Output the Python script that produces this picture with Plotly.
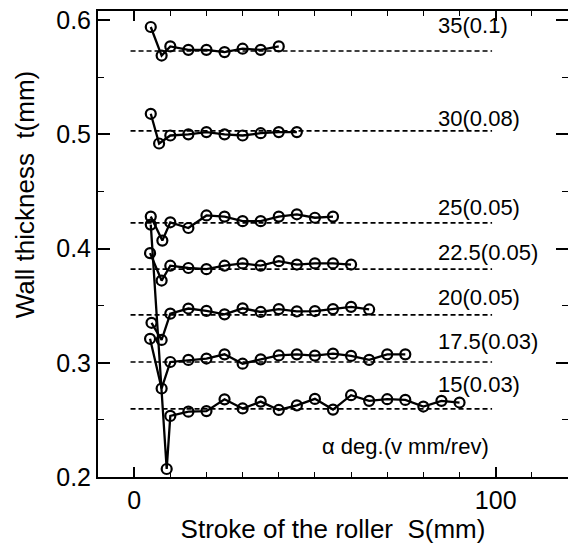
import plotly.graph_objects as go

# ---- data ----
SERIES_NAMES = ["35(0.1)", "30(0.08)", "25(0.05)", "22.5(0.05)", "20(0.05)", "17.5(0.03)", "15(0.03)"]

S_35 = [4.6, 7.6, 10, 15, 20, 25, 30, 35, 40]
T_35 = [0.594, 0.569, 0.577, 0.574, 0.574, 0.572, 0.575, 0.574, 0.577]

S_30 = [4.6, 6.9, 10, 15, 20, 25, 30, 35, 40, 45]
T_30 = [0.518, 0.492, 0.499, 0.500, 0.502, 0.500, 0.499, 0.501, 0.502, 0.502]

S_25 = [4.6, 7.8, 10, 15, 20, 25, 30, 35, 40, 45, 50, 55]
T_25 = [0.428, 0.407, 0.423, 0.418, 0.429, 0.428, 0.424, 0.424, 0.428, 0.430, 0.427, 0.428]

S_22_5 = [4.4, 7.6, 10, 15, 20, 25, 30, 35, 40, 45, 50, 55, 60]
T_22_5 = [0.396, 0.372, 0.385, 0.383, 0.382, 0.385, 0.387, 0.385, 0.389, 0.386, 0.387, 0.387, 0.386]

S_20 = [4.8, 7.6, 10, 15, 20, 25, 30, 35, 40, 45, 50, 55, 60, 65]
T_20 = [0.335, 0.320, 0.343, 0.3475, 0.3455, 0.3424, 0.3477, 0.3445, 0.347, 0.345, 0.3453, 0.347, 0.349, 0.3467]

S_17_5 = [4.4, 7.6, 10, 15, 20, 25, 30, 35, 40, 45, 50, 55, 60, 65, 70, 75]
T_17_5 = [0.321, 0.2775, 0.3007, 0.3025, 0.3037, 0.3074, 0.2992, 0.303, 0.3064, 0.3074,
          0.3063, 0.308, 0.306, 0.3025, 0.3074, 0.3074]

S_15 = [4.6, 9.0, 10, 15, 20, 25, 30, 35, 40, 45, 50, 55, 60, 65, 70, 75, 80, 85, 90]
T_15 = [0.421, 0.207, 0.2535, 0.2572, 0.2577, 0.268, 0.260, 0.266, 0.2587, 0.2627,
        0.2684, 0.259, 0.2716, 0.2667, 0.2681, 0.2675, 0.2617, 0.2667, 0.2652]

BASELINES = [0.573, 0.503, 0.4225, 0.382, 0.342, 0.3007, 0.2596]
DASH_S = [-1, 99]

X_TICKS = [0, 100]
Y_TICKS = [0.2, 0.3, 0.4, 0.5, 0.6]
Y_TICK_TEXT = ["0.2", "0.3", "0.4", "0.5", "0.6"]

X_TITLE = "Stroke of the roller  S(mm)"
Y_TITLE = "Wall thickness  t(mm)"
KEY_TEXT = "α deg.(v mm/rev)"

# annotation placement (layout only)
LABEL_X = 83.5
LABEL_Y = [0.595, 0.514, 0.436, 0.397, 0.357, 0.319, 0.281]

SERIES_S = [S_35, S_30, S_25, S_22_5, S_20, S_17_5, S_15]
SERIES_T = [T_35, T_30, T_25, T_22_5, T_20, T_17_5, T_15]

FONT = "Liberation Sans, Arial, sans-serif"
X_RANGE = [-10, 120]
Y_RANGE = [0.2, 0.608]

fig = go.Figure()

for base in BASELINES:
    fig.add_trace(go.Scatter(
        x=DASH_S, y=[base, base], mode="lines",
        line=dict(color="black", width=1.7, dash="5px,3px"),
        showlegend=False, hoverinfo="skip"))

for name, s, t in zip(SERIES_NAMES, SERIES_S, SERIES_T):
    fig.add_trace(go.Scatter(
        x=s, y=t, mode="lines+markers", name=name,
        line=dict(color="black", width=2.3),
        marker=dict(symbol="circle-open", size=10, color="black", line=dict(width=2.2)),
        showlegend=False))

# invisible trace to carry the mirrored (top/right) tick axes
fig.add_trace(go.Scatter(x=X_RANGE, y=Y_RANGE, xaxis="x2", yaxis="y2",
                         mode="markers", marker=dict(opacity=0),
                         showlegend=False, hoverinfo="skip"))

for name, ly in zip(SERIES_NAMES, LABEL_Y):
    fig.add_annotation(x=LABEL_X, y=ly, text=name, showarrow=False,
                       xanchor="left", yanchor="middle",
                       font=dict(family=FONT, size=22, color="black"))

fig.add_annotation(x=75, y=0.227, text=KEY_TEXT, showarrow=False,
                   xanchor="center", yanchor="middle",
                   font=dict(family=FONT, size=22, color="black"))

fig.add_annotation(xref="paper", yref="paper", x=-0.155, y=0.607, text=Y_TITLE,
                   textangle=-90, showarrow=False, xanchor="center", yanchor="middle",
                   font=dict(family=FONT, size=26, color="black"))

tick_common = dict(ticks="inside", tickwidth=1.5, tickcolor="black",
                   showline=True, linecolor="black", linewidth=2,
                   showgrid=False, zeroline=False)

fig.update_layout(
    xaxis=dict(
        range=X_RANGE, tickvals=X_TICKS, ticktext=[str(v) for v in X_TICKS],
        ticklen=10,
        minor=dict(ticks="inside", dtick=10, tick0=0, ticklen=5, tickwidth=1.2, tickcolor="black"),
        tickfont=dict(family=FONT, size=25, color="black"),
        title=dict(text=X_TITLE, standoff=6, font=dict(family=FONT, size=26, color="black")),
        automargin=False, **tick_common),
    yaxis=dict(
        range=Y_RANGE, tickvals=Y_TICKS, ticktext=Y_TICK_TEXT,
        ticklen=12,
        minor=dict(ticks="inside", dtick=0.05, tick0=0.2, ticklen=6, tickwidth=1.2, tickcolor="black"),
        tickfont=dict(family=FONT, size=25, color="black"),
        automargin=False, **tick_common),
    xaxis2=dict(
        range=X_RANGE, overlaying="x", side="top", anchor="y2",
        tickvals=X_TICKS, showticklabels=False, ticklen=10,
        minor=dict(ticks="inside", dtick=10, tick0=0, ticklen=5, tickwidth=1.2, tickcolor="black"),
        **tick_common),
    yaxis2=dict(
        range=Y_RANGE, overlaying="y", side="right", anchor="x2",
        tickvals=Y_TICKS, showticklabels=False, ticklen=12,
        minor=dict(ticks="inside", dtick=0.05, tick0=0.2, ticklen=6, tickwidth=1.2, tickcolor="black"),
        **tick_common),
    width=568, height=548,
    margin=dict(l=98, r=0, t=11, b=71),
    plot_bgcolor="white", paper_bgcolor="white",
    showlegend=False)

fig.write_html("out.html")
